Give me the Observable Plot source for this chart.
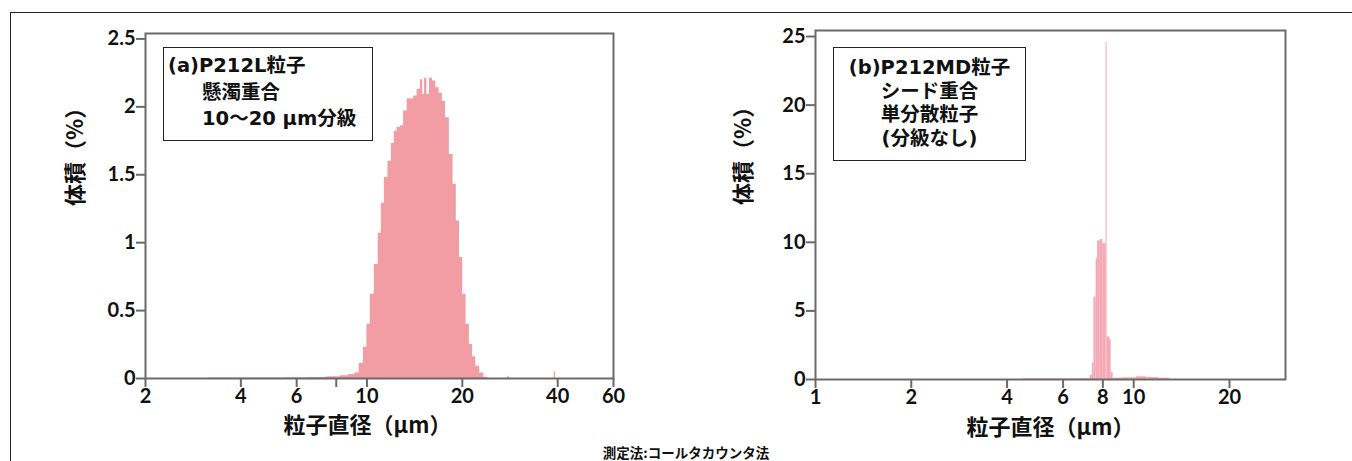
<!DOCTYPE html>
<html>
<head>
<meta charset="utf-8">
<script src="https://cdn.jsdelivr.net/npm/d3@7"></script>
<script src="https://cdn.jsdelivr.net/npm/@observablehq/plot@0.6"></script>
<style>
  html, body { margin: 0; padding: 0; background: #fff; }
  #wrap { position: relative; width: 1352px; height: 461px; overflow: hidden; font-family: "Noto Sans CJK JP", "Noto Sans", sans-serif; }
  .panel { position: absolute; top: 0; }
  .border { position: absolute; left: 10px; top: 12px; right: -5px; bottom: -5px; border-top: 1.5px solid #222; border-left: 1.5px solid #222; }
  .box { position: absolute; border: 1.5px solid #222; background: #fff; color: #111; font-family: "DejaVu Sans", "Noto Sans CJK JP", sans-serif; font-size: 19.5px; font-weight: 700; box-sizing: border-box; }
  .caption { position: absolute; left: 0; width: 1372px; top: 442px; text-align: center; font-size: 13.5px; font-weight: 700; color: #111; }
</style>
</head>
<body>
<div id="wrap">
  <div class="border"></div>
  <div id="left" class="panel" style="left:0px"></div>
  <div id="right" class="panel" style="left:680px"></div>
  <div class="box" style="left:163px; top:47px; width:210px; height:94px; padding:5px 0 0 4px; line-height:26.5px;">
    <div>(a)P212L粒子</div>
    <div style="padding-left:34px">懸濁重合</div>
    <div style="padding-left:34px">10〜20 μm分級</div>
  </div>
  <div class="box" style="left:833px; top:47px; width:193px; height:114px; text-align:center; line-height:23.5px; padding-top:8px;">
    <div>(b)P212MD粒子</div>
    <div>シード重合</div>
    <div>単分散粒子</div>
    <div>(分級なし)</div>
  </div>
  <div class="caption">測定法:コールタカウンタ法</div>
</div>
<script>
// ---- Data ----
// (a) P212L particles: particle diameter (µm) vs volume (%)
const leftSizes = [2, 5, 6, 7, 8, 8.5, 9.0, 9.3, 9.6, 9.9, 10.1, 10.4, 10.7, 11.0, 11.2, 11.5, 11.8, 12.1, 12.3, 12.6, 12.9, 13.2, 13.6, 13.9, 14.2, 14.6, 14.9, 15.1, 15.3, 15.6, 15.9, 16.3, 16.7, 17.1, 17.5, 17.9, 18.5, 18.9, 19.4, 19.8, 20.3, 20.8, 21.3, 21.8, 22.3, 23.1, 23.7, 24.5, 27.6, 28.0, 28.4, 38.8, 39.2, 39.6, 60];
const leftVolume = [0, 0.003, 0.005, 0.008, 0.012, 0.02, 0.03, 0.04, 0.11, 0.23, 0.40, 0.62, 0.84, 1.07, 1.29, 1.48, 1.60, 1.73, 1.82, 1.85, 1.86, 1.97, 2.06, 2.06, 2.08, 2.13, 2.20, 2.09, 2.21, 2.09, 2.21, 2.19, 2.14, 2.10, 2.04, 1.92, 1.65, 1.43, 1.16, 0.89, 0.62, 0.40, 0.25, 0.16, 0.09, 0.04, 0.01, 0, 0, 0.012, 0, 0, 0.05, 0, 0];

// (b) P212MD particles: channel edges (µm) and volume (%)
const rightLo = [4.5, 7.30, 7.42, 7.50, 7.62, 7.70, 7.85, 8.00, 8.19, 8.25, 8.40, 8.50, 8.62, 9.2, 10.2, 11.0, 12.0];
const rightHi = [7.30, 7.42, 7.50, 7.62, 7.70, 7.85, 8.00, 8.19, 8.25, 8.40, 8.50, 8.62, 9.2, 10.2, 11.0, 12.0, 13.0];
const rightVolume = [0.05, 0.3, 1.2, 6.0, 8.8, 10.1, 10.2, 9.9, 24.6, 3.1, 2.9, 0.5, 0.1, 0.12, 0.2, 0.15, 0.1];

// Axis ticks
const leftXTicks = [2, 4, 6, 8, 10, 20, 40, 60];
const leftYTicks = [0, 0.5, 1, 1.5, 2, 2.5];
const rightXTicks = [1, 2, 4, 6, 8, 10, 20];
const rightYTicks = [0, 5, 10, 15, 20, 25];

const xTitle = "粒子直径（μm）";
const yTitle = "体積（%）";

const leftData = leftSizes.map((s, i) => ({size: s, vol: leftVolume[i]}));
const rightData = rightLo.map((lo, i) => ({lo, hi: rightHi[i], vol: rightVolume[i]}));

const cjk = "'Noto Sans CJK JP', 'Noto Sans', sans-serif";
const svgStyle = {fontFamily: "Lato, 'Noto Sans', sans-serif", fontSize: "20px", fontWeight: "bold", background: "transparent"};
const axisCommon = {stroke: "#6a6a6a", strokeWidth: 2, fill: "#111", fontSize: 20, tickSize: 9, tickPadding: 1, tickFormat: d => String(d)};
const titleCommon = {text: d => d, fontSize: 22, fontWeight: 700, fontFamily: cjk, fill: "#111"};

const left = Plot.plot({
  width: 680, height: 461,
  marginLeft: 145, marginRight: 67, marginTop: 33, marginBottom: 83,
  style: svgStyle,
  x: {type: "log", domain: [2, 60]},
  y: {domain: [0, 2.54]},
  marks: [
    Plot.areaY(leftData, {x: "size", y: "vol", curve: "step", fill: "#f29ca3"}),
    Plot.frame({stroke: "#6a6a6a", strokeWidth: 2}),
    Plot.axisX({...axisCommon, ticks: leftXTicks, label: null}),
    Plot.axisY({...axisCommon, ticks: leftYTicks, label: null}),
    Plot.text([yTitle], {...titleCommon, frameAnchor: "left", dx: -70, rotate: -90}),
    Plot.text([xTitle], {...titleCommon, frameAnchor: "bottom", dx: -12, dy: 54})
  ]
});
document.getElementById("left").appendChild(left);

const right = Plot.plot({
  width: 672, height: 461,
  marginLeft: 135, marginRight: 67, marginTop: 30, marginBottom: 82,
  style: svgStyle,
  x: {type: "log", domain: [1, 30]},
  y: {domain: [0, 25.44]},
  marks: [
    Plot.rectY(rightData, {x1: "lo", x2: "hi", y: "vol", fill: "#f5a8b3", inset: 0}),
    Plot.frame({stroke: "#6a6a6a", strokeWidth: 2}),
    Plot.axisX({...axisCommon, ticks: rightXTicks, label: null}),
    Plot.axisY({...axisCommon, ticks: rightYTicks, label: null}),
    Plot.text([yTitle], {...titleCommon, frameAnchor: "left", dx: -72, rotate: -90}),
    Plot.text([xTitle], {...titleCommon, frameAnchor: "bottom", dx: 0, dy: 55})
  ]
});
document.getElementById("right").appendChild(right);
</script>
</body>
</html>
